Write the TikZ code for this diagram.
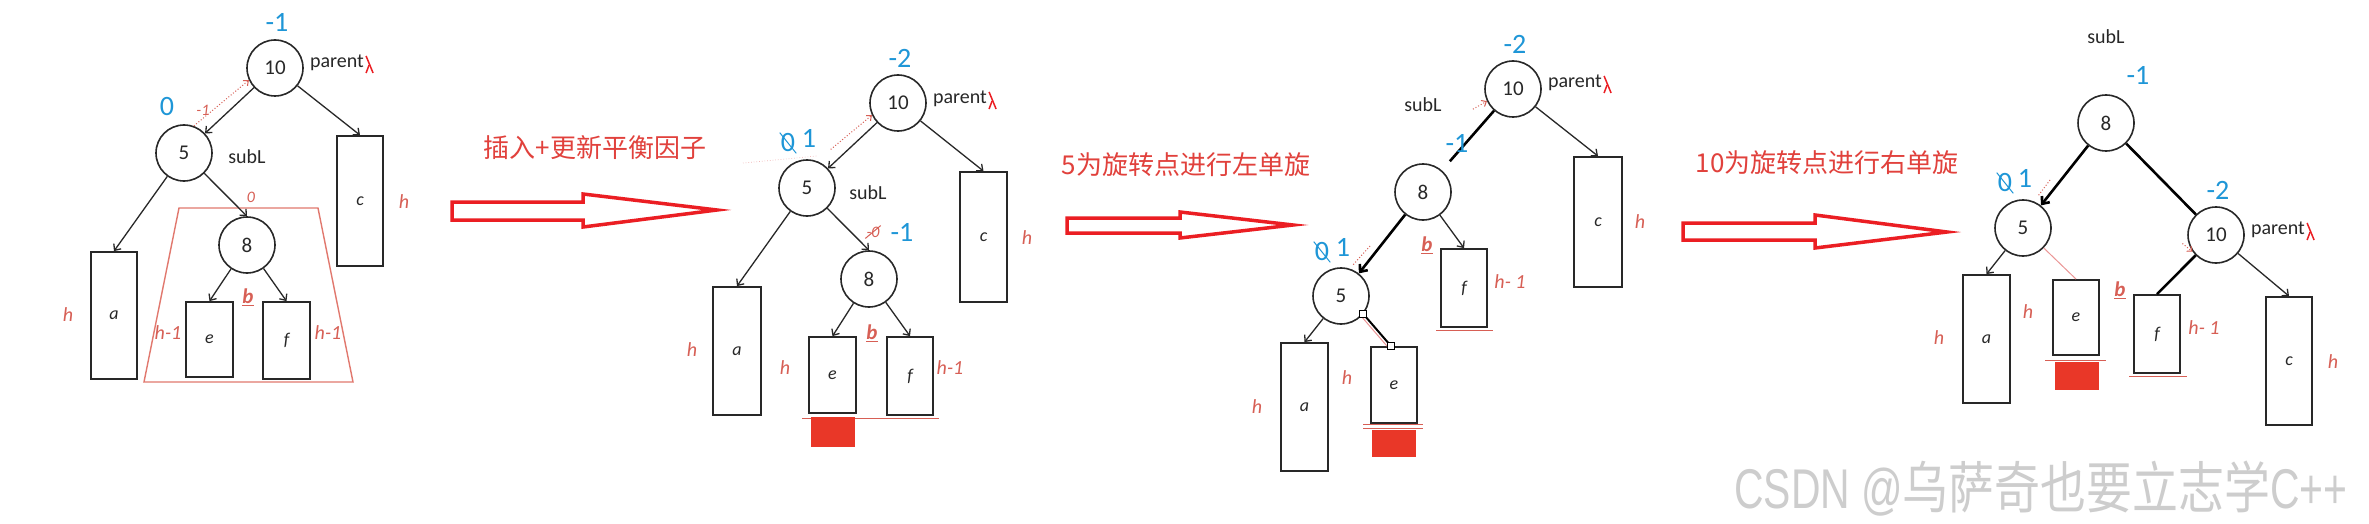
\documentclass[tikz,border=0pt]{standalone}
\usepackage{fontspec}
\setmainfont{Carlito}
\newfontfamily\cjk{Noto Sans CJK SC}
\newfontfamily\wmlat[FakeStretch=0.73]{Liberation Sans}
\newfontfamily\wmcjk[FakeStretch=0.82]{Noto Sans CJK SC}
\usetikzlibrary{arrows.meta}
\definecolor{blueF}{RGB}{30,150,215}
\definecolor{redH}{RGB}{215,95,85}
\definecolor{redT}{RGB}{225,65,60}
\definecolor{redA}{RGB}{235,30,35}
\definecolor{redB}{RGB}{233,55,40}
\definecolor{trapC}{RGB}{225,120,110}
\definecolor{pinkL}{RGB}{235,150,150}
\definecolor{inkC}{RGB}{40,40,40}
\definecolor{wmC}{RGB}{205,205,205}
\tikzset{
  tn/.style={circle, draw=inkC, line width=1.6pt, minimum size=56pt, inner sep=0pt, font=\fontsize{21}{21}\selectfont, text=inkC},
  bx/.style={draw=inkC, line width=1.8pt, inner sep=0pt, font=\fontsize{18}{18}\selectfont\itshape, text=inkC},
  edge/.style={draw=inkC, line width=1.3pt, -{Straight Barb[length=5pt,width=9pt]}},
  thk/.style={draw=black, line width=2.6pt},
  thka/.style={draw=black, line width=2.6pt, -{Straight Barb[length=6pt,width=10pt]}},
  lbl/.style={font=\fontsize{20}{20}\selectfont, text=inkC, inner sep=1pt},
  bf/.style={font=\fontsize{28}{28}\selectfont, text=blueF, inner sep=1pt},
  hl/.style={font=\fontsize{20}{20}\selectfont\itshape, text=redH, inner sep=1pt},
  rsm/.style={font=\fontsize{16}{16}\selectfont\itshape, text=redH, inner sep=1pt},
  bl/.style={font=\fontsize{21}{21}\selectfont\bfseries\itshape, text=redH, inner sep=1pt},
  rdot/.style={draw=redH, line width=1pt, dotted, -{Straight Barb[length=4pt,width=7pt]}},
  bigarrow/.style={draw=redA, line width=3.5pt, fill=white, line join=miter},
  cn/.style={font=\cjk\fontsize{26}{26}\selectfont, text=redT, inner sep=0pt},
  rline/.style={draw=redH, line width=1pt},
  lamst/.style={draw=redA, line width=1.5pt},
  pink/.style={draw=pinkL, line width=1pt},
  hsq/.style={draw=black, fill=white, line width=1pt, minimum size=7pt, inner sep=0pt},
  wm/.style={text=wmC, inner sep=0pt}
}
\newcommand\mylam[1]{\draw[lamst] ([xshift=1pt,yshift=7pt]#1.east) -- ++(7,17); \draw[lamst] ([xshift=4pt,yshift=-2pt]#1.east) -- ++(-3,8);}
\begin{document}
\begin{tikzpicture}[x=1pt,y=-1pt]
\useasboundingbox (0,0) rectangle (2369,524);
\clip (0,0) rectangle (2369,524);
\fill[white] (0,0) rectangle (2369,524);

%% ---------------- Panel 1 ----------------
\draw[trapC, line width=1.4pt] (179,208) -- (318,208) -- (353,382) -- (144,382) -- cycle;
\node[tn] (p1n10) at (275,68) {10};
\node[tn] (p1n5) at (184,153) {5};
\node[tn] (p1n8) at (247,245) {8};
\node[bx, minimum width=46pt, minimum height=127pt] (p1a) at (114,315.5) {a};
\node[bx, minimum width=46pt, minimum height=130pt] (p1c) at (360,201) {c};
\node[bx, minimum width=47pt, minimum height=75pt] (p1e) at (209.5,339.5) {e};
\node[bx, minimum width=47pt, minimum height=77pt] (p1f) at (286.5,340.5) {f};
\draw[edge] (p1n10) -- (p1n5);
\draw[edge] (p1n10) -- (p1c.north);
\draw[edge] (p1n5) -- (p1a.north);
\draw[edge] (p1n5) -- (p1n8.north);
\draw[edge] (p1n8) -- (p1e.north);
\draw[edge] (p1n8) -- (p1f.north);
\draw[rdot] (p1n5.70) -- (p1n10.205);
\node[bf] (p1b10) at (277,22) {-1};
\node[bf] (p1b5) at (167,107) {0};
\node[lbl] (p1par) at (337,63) {parent};
\mylam{p1par}
\node[lbl] (p1sub) at (247,157) {subL};
\node[rsm] (p1r1) at (203,110) {-1};
\node[rsm] (p1r0) at (251,197) {0};
\node[hl] (p1hc) at (404,202) {h};
\node[hl] (p1ha) at (68,315) {h};
\node[hl] (p1he) at (168,333) {h-1};
\node[hl] (p1hf) at (328,333) {h-1};
\node[bl] (p1bb) at (248,297) {\underline{b}};

%% ---------------- Arrow 1 ----------------
\node[cn] (t1) at (595,148) {插入+更新平衡因子};
\draw[bigarrow] (452,202) -- (583,202) -- (583,194) -- (717,210) -- (583,227) -- (583,220) -- (452,220) -- cycle;

%% ---------------- Panel 2 ----------------
\node[tn] (p2n10) at (898,103) {10};
\node[tn] (p2n5) at (807,188) {5};
\node[tn] (p2n8) at (869,279) {8};
\node[bx, minimum width=48pt, minimum height=128pt] (p2a) at (737,351) {a};
\node[bx, minimum width=47pt, minimum height=130pt] (p2c) at (983.5,237) {c};
\node[bx, minimum width=47pt, minimum height=76pt] (p2e) at (832.5,375) {e};
\node[bx, minimum width=46pt, minimum height=78pt] (p2f) at (910,376) {f};
\draw[rline] (802,418) -- (939,418);
\fill[redB] (811,417) rectangle (855,447);
\draw[edge] (p2n10) -- (p2n5);
\draw[edge] (p2n10) -- (p2c.north);
\draw[edge] (p2n5) -- (p2a.north);
\draw[edge] (p2n5) -- (p2n8.north);
\draw[edge] (p2n8) -- (p2e.north);
\draw[edge] (p2n8) -- (p2f.north);
\draw[rdot, shorten <=18pt] (p2n5.70) -- (p2n10.205);
\draw[pinkL!70, line width=0.7pt, dotted] (743,163) -- (817,156);
\node[bf] (p2b10) at (900,58) {-2};
\node[bf] (p2b5z) at (788,143) {0};
\draw[blueF, line width=1pt] (p2b5z.north west) -- (p2b5z.south east);
\node[bf] (p2b5) at (809,138) {1};
\node[lbl] (p2par) at (960,99) {parent};
\mylam{p2par}
\node[lbl] (p2sub) at (868,193) {subL};
\node[rsm] (p2r0) at (873,232) {-0};
\draw[redH, line width=1pt] (p2r0.south west) -- (p2r0.north east);
\node[bf] (p2b8) at (902,232) {-1};
\node[hl] (p2hc) at (1027,238) {h};
\node[hl] (p2ha) at (692,350) {h};
\node[hl] (p2he) at (785,368) {h};
\node[hl] (p2hf) at (950,368) {h-1};
\node[bl] (p2bb) at (872,333) {\underline{b}};

%% ---------------- Arrow 2 ----------------
\node[cn] (t2) at (1186,165) {5为旋转点进行左单旋};
\draw[bigarrow] (1067,218) -- (1180,218) -- (1180,212) -- (1293,225) -- (1180,238) -- (1180,233) -- (1067,233) -- cycle;

%% ---------------- Panel 3 ----------------
\node[tn] (p3n10) at (1513,89) {10};
\node[tn] (p3n8) at (1423,192) {8};
\node[tn] (p3n5) at (1341,296) {5};
\node[bx, minimum width=47pt, minimum height=128pt] (p3a) at (1304.5,407) {a};
\node[bx, minimum width=46pt, minimum height=76pt] (p3e) at (1394,385) {e};
\node[bx, minimum width=46pt, minimum height=78pt] (p3f) at (1464,288) {f};
\node[bx, minimum width=48pt, minimum height=130pt] (p3c) at (1598,222) {c};
\draw[rline] (1363,424) -- (1423,424);
\draw[rline] (1363,428) -- (1423,428);
\fill[redB] (1372,430) rectangle (1416,457);
\draw[rline] (1436,330) -- (1493,330);
\draw[thk, shorten >=12pt] (p3n10) -- (p3n8);
\draw[rdot] ([xshift=-14pt,yshift=-8pt]p3n10.205) -- (p3n10.205);
\draw[thka] (p3n8) -- (p3n5);
\draw[redH, line width=1pt, dotted] (1370,246) -- (1352,266);
\draw[edge] (p3n8) -- (p3f.north);
\draw[edge] (p3n10) -- (p3c.north);
\draw[edge] (p3n5) -- (p3a.north);
\coordinate (p3q1) at (p3n5.-39);
\coordinate (p3q2) at ([xshift=-3pt]p3e.north);
\draw[pink] ([xshift=-4pt]p3q1) -- ([xshift=-4pt]p3q2);
\draw[black, line width=2pt] (p3q1) -- (p3q2);
\node[hsq] (p3s1) at (p3q1) {};
\node[hsq] (p3s2) at (p3q2) {};
\node[bf] (p3b10) at (1515,44) {-2};
\node[lbl] (p3par) at (1575,83) {parent};
\mylam{p3par}
\node[lbl] (p3sub) at (1423,105) {subL};
\node[bf] (p3b8) at (1457,143) {-1};
\node[bf] (p3b5z) at (1322,252) {0};
\draw[blueF, line width=1pt] (p3b5z.north west) -- (p3b5z.south east);
\node[bf] (p3b5) at (1343,247) {1};
\node[bl] (p3bb) at (1427,245) {\underline{b}};
\node[hl] (p3hf) at (1510,282) {h- 1};
\node[hl] (p3hc) at (1640,222) {h};
\node[hl] (p3ha) at (1257,407) {h};
\node[hl] (p3he) at (1347,378) {h};

%% ---------------- Arrow 3 ----------------
\node[cn] (t3) at (1827,163) {10为旋转点进行右单旋};
\draw[bigarrow] (1683,223) -- (1815,223) -- (1815,215) -- (1947,232) -- (1815,248) -- (1815,240) -- (1683,240) -- cycle;

%% ---------------- Panel 4 ----------------
\node[tn] (p4n8) at (2106,123) {8};
\node[tn] (p4n5) at (2023,228) {5};
\node[tn] (p4n10) at (2216,235) {10};
\node[bx, minimum width=47pt, minimum height=128pt] (p4a) at (1986.5,339) {a};
\node[bx, minimum width=46pt, minimum height=75pt] (p4e) at (2076,317.5) {e};
\node[bx, minimum width=46pt, minimum height=78pt] (p4f) at (2157,334) {f};
\node[bx, minimum width=46pt, minimum height=128pt] (p4c) at (2289,361) {c};
\draw[rline] (2045,360) -- (2106,360);
\fill[redB] (2055,362) rectangle (2099,390);
\draw[rline] (2129,376) -- (2187,376);
\draw[thka] (p4n8) -- (p4n5);
\draw[thk] (p4n8) -- (p4n10);
\draw[thk] (p4n10) -- (p4f.north);
\draw[edge] (p4n10) -- (p4c.north);
\draw[edge] (p4n5) -- (p4a.north);
\draw[pink] (p4n5) -- (p4e.north);
\draw[rdot] ([xshift=-10pt,yshift=8pt]p4n10.215) -- (p4n10.215);
\draw[redH, line width=1pt, dotted] (2050,180) -- (2038,196);
\node[lbl] (p4sub) at (2106,37) {subL};
\node[bf] (p4b8) at (2138,75) {-1};
\node[bf] (p4b5z) at (2005,183) {0};
\draw[blueF, line width=1pt] (p4b5z.north west) -- (p4b5z.south east);
\node[bf] (p4b5) at (2025,178) {1};
\node[bf] (p4b10) at (2218,190) {-2};
\node[lbl] (p4par) at (2278,230) {parent};
\mylam{p4par}
\node[bl] (p4bb) at (2120,290) {\underline{b}};
\node[hl] (p4ha) at (1939,338) {h};
\node[hl] (p4he) at (2028,312) {h};
\node[hl] (p4hf) at (2204,328) {h- 1};
\node[hl] (p4hc) at (2333,362) {h};

%% watermark
\node[wm, anchor=base west] (wmk) at (1734,508) {\wmlat\fontsize{56}{56}\selectfont CSDN @\wmcjk 乌萨奇也要立志学\wmlat C++};
\end{tikzpicture}
\end{document}
